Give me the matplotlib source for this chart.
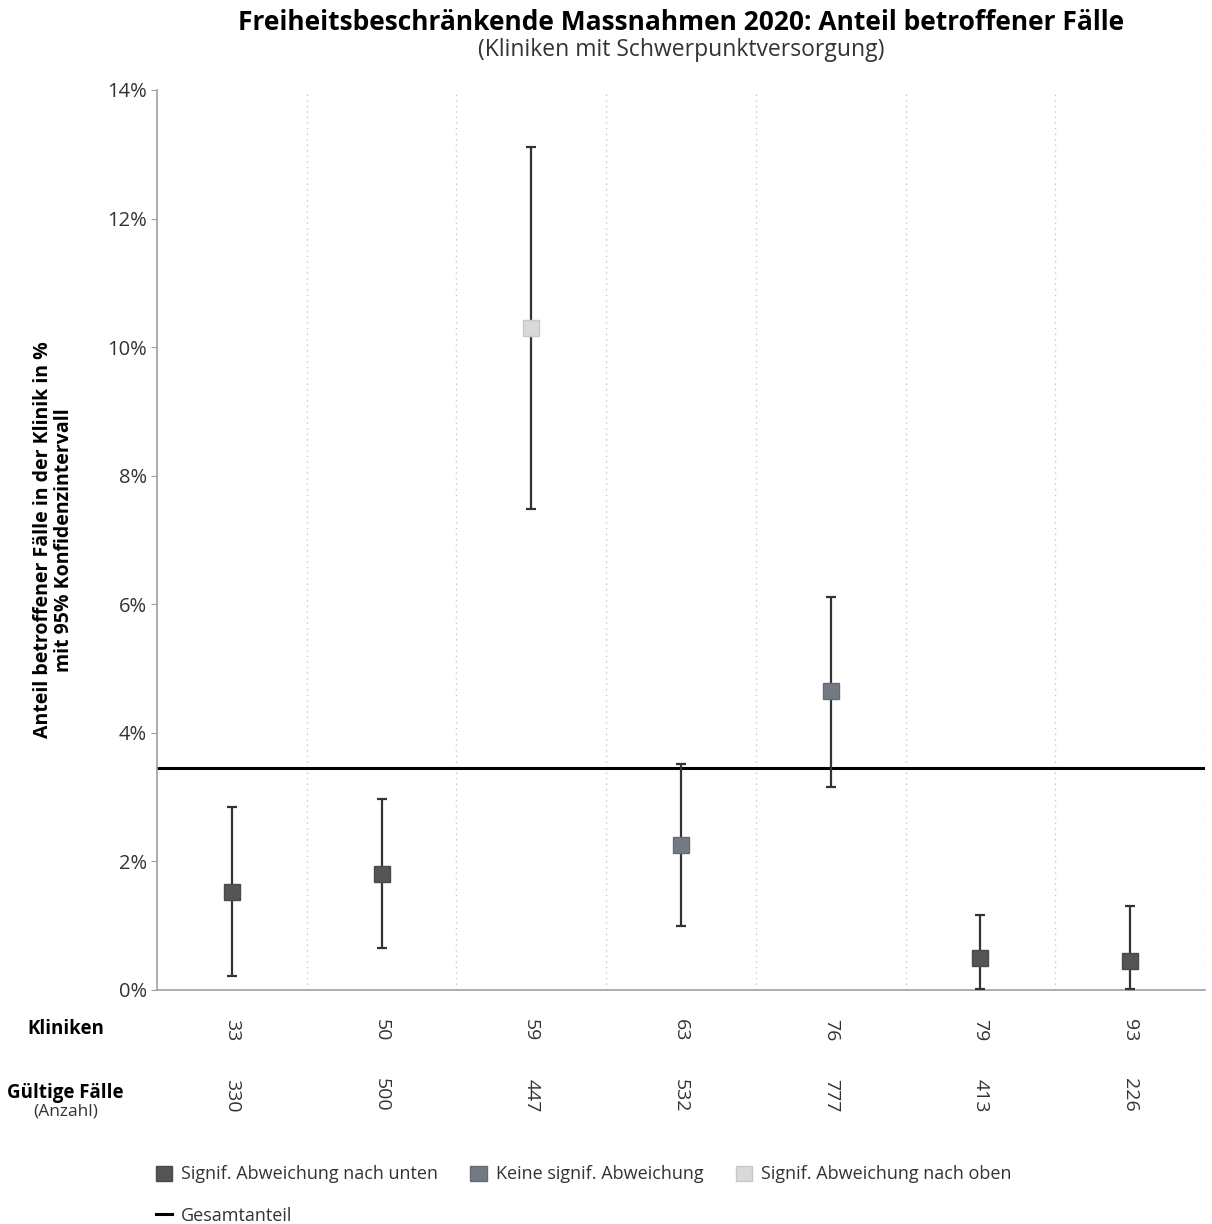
import numpy as np
from matplotlib import pyplot as plt
from matplotlib.lines import Line2D
from matplotlib.patches import Patch
from matplotlib.ticker import FuncFormatter

plt.rcParams['font.family'] = ['Open Sans', 'DejaVu Sans']

# data (percent)
kliniken = ["33", "50", "59", "63", "76", "79", "93"]
faelle = ["330", "500", "447", "532", "777", "413", "226"]
anteil = [1.52, 1.80, 10.30, 2.26, 4.65, 0.50, 0.45]
ci_unten = [0.22, 0.65, 7.48, 1.00, 3.16, 0.02, 0.02]
ci_oben = [2.85, 2.97, 13.11, 3.52, 6.11, 1.17, 1.31]
gruppe = ["unten", "unten", "oben", "keine", "keine", "unten", "unten"]
gesamtanteil = 3.45

farben = {"unten": "#555555", "keine": "#737a84", "oben": "#d9d9d9"}
kanten = {"unten": "#4a4a4a", "keine": "#666b73", "oben": "#c8c8c8"}

fig = plt.figure(figsize=(12.12, 12.24), dpi=100)
ax = fig.add_axes([0.1295, 0.1912, 0.8647, 0.7353])

x = np.arange(len(kliniken))
anteil = np.array(anteil)
err = np.array([anteil - np.array(ci_unten), np.array(ci_oben) - anteil])

# separators between clinics
for s in np.arange(0.5, len(kliniken), 1.0):
    ax.axvline(s, color="#c8c8c8", lw=1, ls=(0, (1, 3)), zorder=0)

ax.axhline(gesamtanteil, color="black", lw=2.2, zorder=2)

ax.errorbar(x, anteil, yerr=err, fmt="none", ecolor="#333333", elinewidth=1.6,
            capsize=3.5, capthick=1.6, zorder=3)
for i in range(len(x)):
    ax.plot(x[i], anteil[i], marker="s", ms=11.5, color=farben[gruppe[i]],
            mec=kanten[gruppe[i]], mew=1, zorder=4, ls="none")

ax.set_xlim(-0.5, len(kliniken) - 0.5)
ax.set_ylim(0, 14)
ax.set_yticks(np.arange(0, 15, 2))
ax.yaxis.set_major_formatter(FuncFormatter(lambda v, p: f"{v:.0f}%"))
ax.tick_params(axis="y", labelsize=14.5, colors="#333333", length=4, color="#9aa0ab", pad=3)
ax.tick_params(axis="x", length=0, labelbottom=False)
for side in ["top", "right"]:
    ax.spines[side].set_visible(False)
for side in ["left", "bottom"]:
    ax.spines[side].set_color("#9aa0ab")
    ax.spines[side].set_linewidth(1.2)

ax.set_ylabel("Anteil betroffener Fälle in der Klinik in %\nmit 95% Konfidenzintervall",
              fontsize=14, fontweight="bold", labelpad=24, linespacing=1.1)

# table rows below the axis
tr = ax.get_xaxis_transform()
for i in range(len(x)):
    ax.text(x[i], -0.045, kliniken[i], transform=tr, rotation=-90, ha="center",
            va="center", fontsize=14, color="#333333")
    ax.text(x[i], -0.117, faelle[i], transform=tr, rotation=-90, ha="center",
            va="center", fontsize=14, color="#333333")

fig.text(0.054, 1 - 1029 / 1224, "Kliniken", ha="center", va="center",
         fontsize=13.5, fontweight="bold")
fig.text(0.054, 1 - 1093 / 1224, "Gültige Fälle", ha="center", va="center",
         fontsize=13.5, fontweight="bold")
fig.text(0.054, 1 - 1112 / 1224, "(Anzahl)", ha="center", va="center",
         fontsize=12.5, color="#333333")

fig.text(0.562, 1 - 22 / 1224, "Freiheitsbeschränkende Massnahmen 2020: Anteil betroffener Fälle",
         ha="center", va="center", fontsize=19, fontweight="bold")
fig.text(0.562, 1 - 50 / 1224, "(Kliniken mit Schwerpunktversorgung)",
         ha="center", va="center", fontsize=16.5, color="#333333")

handles = [
    Patch(facecolor=farben["unten"], edgecolor=kanten["unten"], label="Signif. Abweichung nach unten"),
    Line2D([0], [0], color="black", lw=2.2, label="Gesamtanteil"),
    Patch(facecolor=farben["keine"], edgecolor=kanten["keine"], label="Keine signif. Abweichung"),
    Patch(facecolor=farben["oben"], edgecolor=kanten["oben"], label="Signif. Abweichung nach oben"),
]
fig.legend(handles=handles, loc="upper left", bbox_to_anchor=(0.115, 1 - 1149 / 1224),
           ncol=3, frameon=False, fontsize=13, handlelength=0.9, handleheight=0.9,
           handletextpad=0.5, columnspacing=1.8, labelspacing=1.3, labelcolor="#333333")

fig.savefig("out.png", dpi=100)
